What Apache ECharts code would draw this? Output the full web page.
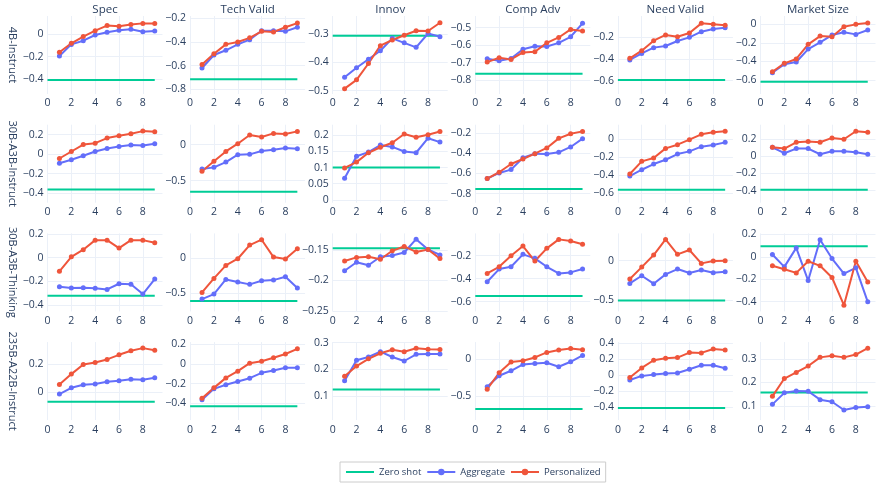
<!DOCTYPE html>
<html>
<head>
<meta charset="utf-8">
<script src="https://cdn.jsdelivr.net/npm/echarts@6/dist/echarts.min.js"></script>
<style>
    html, body { margin: 0; padding: 0; background: #fff; }
    #chart { width: 881px; height: 491px; }
</style>
</head>
<body>
<div id="chart"></div>
<script>
var metrics = ['Spec', 'Tech Valid', 'Innov', 'Comp Adv', 'Need Valid', 'Market Size'];
var models = ['4B-Instruct', '30B-A3B-Instruct', '30B-A3B-Thinking', '235B-A22B-Instruct'];
var steps = [1, 2, 3, 4, 5, 6, 7, 8, 9];
var zeroShotX = [0, 9];

// one row of 9 values per metric, same order as metrics
var agg_4B = [
    [-0.194, -0.09, -0.057, -0.006, 0.018, 0.036, 0.045, 0.024, 0.03],
    [-0.62, -0.51, -0.47, -0.42, -0.38, -0.305, -0.305, -0.31, -0.275],
    [-0.453, -0.419, -0.389, -0.359, -0.315, -0.331, -0.347, -0.298, -0.309],
    [-0.678, -0.69, -0.677, -0.624, -0.606, -0.608, -0.587, -0.552, -0.475],
    [-0.409, -0.348, -0.295, -0.28, -0.234, -0.2, -0.148, -0.123, -0.111],
    [-0.52, -0.43, -0.405, -0.266, -0.194, -0.115, -0.086, -0.108, -0.061]
];
var pers_4B = [
    [-0.16, -0.08, -0.02, 0.033, 0.078, 0.072, 0.087, 0.098, 0.098],
    [-0.59, -0.5, -0.42, -0.4, -0.365, -0.31, -0.315, -0.275, -0.24],
    [-0.493, -0.462, -0.404, -0.341, -0.321, -0.304, -0.288, -0.289, -0.26],
    [-0.697, -0.672, -0.682, -0.642, -0.638, -0.587, -0.556, -0.51, -0.519],
    [-0.394, -0.323, -0.231, -0.178, -0.194, -0.16, -0.071, -0.08, -0.089],
    [-0.51, -0.42, -0.373, -0.215, -0.126, -0.133, -0.025, 0.0, 0.014]
];
var zero_4B = [-0.409, -0.715, -0.306, -0.764, -0.594, -0.618];

var agg_30B = [
    [-0.093, -0.058, -0.017, 0.027, 0.058, 0.079, 0.093, 0.089, 0.106],
    [-0.338, -0.315, -0.241, -0.139, -0.134, -0.088, -0.069, -0.046, -0.056],
    [0.067, 0.135, 0.148, 0.17, 0.164, 0.15, 0.146, 0.191, 0.179],
    [-0.651, -0.595, -0.562, -0.444, -0.404, -0.407, -0.391, -0.338, -0.256],
    [-0.411, -0.341, -0.278, -0.23, -0.167, -0.137, -0.085, -0.067, -0.037],
    [0.104, 0.035, 0.089, 0.089, 0.023, 0.058, 0.058, 0.046, 0.023]
];
var pers_30B = [
    [-0.045, 0.027, 0.099, 0.113, 0.165, 0.189, 0.209, 0.237, 0.23],
    [-0.37, -0.231, -0.093, 0.014, 0.134, 0.106, 0.157, 0.148, 0.185],
    [0.099, 0.117, 0.146, 0.163, 0.177, 0.204, 0.194, 0.202, 0.212],
    [-0.651, -0.588, -0.506, -0.457, -0.404, -0.348, -0.253, -0.207, -0.184],
    [-0.389, -0.248, -0.211, -0.104, -0.063, -0.007, 0.052, 0.074, 0.085],
    [0.104, 0.089, 0.162, 0.17, 0.162, 0.213, 0.197, 0.29, 0.279]
];
var zero_30B = [-0.364, -0.653, 0.1, -0.754, -0.563, -0.39];

var agg_30BT = [
    [-0.245, -0.256, -0.254, -0.259, -0.268, -0.22, -0.225, -0.307, -0.18],
    [-0.581, -0.51, -0.3, -0.338, -0.371, -0.319, -0.31, -0.262, -0.424],
    [-0.184, -0.17, -0.175, -0.161, -0.159, -0.154, -0.132, -0.149, -0.158],
    [-0.426, -0.316, -0.296, -0.188, -0.223, -0.296, -0.354, -0.345, -0.316],
    [-0.288, -0.191, -0.292, -0.174, -0.106, -0.157, -0.119, -0.153, -0.14],
    [0.021, -0.089, 0.08, -0.211, 0.152, -0.015, -0.149, -0.098, -0.401]
];
var pers_30BT = [
    [-0.115, 0.008, 0.068, 0.149, 0.149, 0.082, 0.149, 0.149, 0.127],
    [-0.486, -0.286, -0.1, -0.005, 0.19, 0.267, 0.019, -0.01, 0.138],
    [-0.168, -0.162, -0.161, -0.165, -0.151, -0.144, -0.153, -0.149, -0.164],
    [-0.354, -0.296, -0.2, -0.116, -0.246, -0.136, -0.058, -0.072, -0.101],
    [-0.233, -0.081, 0.072, 0.271, 0.081, 0.136, -0.034, -0.004, 0.0],
    [-0.08, -0.11, -0.143, -0.039, -0.08, -0.184, -0.431, -0.039, -0.223]
];
var zero_30BT = [-0.321, -0.61, -0.147, -0.551, -0.504, 0.095];

var agg_235B = [
    [-0.012, 0.033, 0.055, 0.06, 0.076, 0.083, 0.095, 0.09, 0.105],
    [-0.364, -0.253, -0.212, -0.179, -0.145, -0.091, -0.067, -0.04, -0.04],
    [0.157, 0.234, 0.246, 0.266, 0.246, 0.231, 0.256, 0.257, 0.257],
    [-0.373, -0.223, -0.155, -0.068, -0.055, -0.045, -0.1, -0.032, 0.055],
    [-0.059, -0.008, 0.008, 0.021, 0.029, 0.075, 0.126, 0.126, 0.088],
    [0.106, 0.155, 0.163, 0.162, 0.126, 0.117, 0.082, 0.093, 0.096]
];
var pers_235B = [
    [0.057, 0.131, 0.2, 0.214, 0.236, 0.269, 0.298, 0.317, 0.302],
    [-0.347, -0.243, -0.142, -0.074, 0.007, 0.027, 0.061, 0.1, 0.152],
    [0.174, 0.212, 0.239, 0.26, 0.273, 0.266, 0.279, 0.275, 0.274],
    [-0.405, -0.182, -0.036, -0.018, 0.027, 0.095, 0.127, 0.15, 0.132],
    [-0.029, 0.092, 0.189, 0.214, 0.222, 0.285, 0.281, 0.331, 0.319],
    [0.14, 0.216, 0.242, 0.269, 0.306, 0.313, 0.306, 0.318, 0.345]
];
var zero_235B = [-0.067, -0.43, 0.124, -0.677, -0.413, 0.157];

// y axis ranges and tick steps, per model row
var yMin = [
    [-0.534, -0.84, -0.512, -0.88, -0.723, -0.75],
    [-0.5, -0.806, -0.009, -0.889, -0.707, -0.539],
    [-0.454, -0.757, -0.251, -0.684, -0.644, -0.486],
    [-0.198, -0.569, 0.009, -0.827, -0.564, 0.039]
];
var yMax = [
    [0.164, -0.18, -0.236, -0.433, -0.003, 0.09],
    [0.303, 0.278, 0.233, -0.118, 0.159, 0.366],
    [0.206, 0.357, -0.1225, -0.006, 0.347, 0.209],
    [0.36, 0.22, 0.302, 0.236, 0.417, 0.371]
];
var yStep = [
    [0.2, 0.2, 0.1, 0.1, 0.2, 0.2],
    [0.2, 0.5, 0.05, 0.2, 0.2, 0.2],
    [0.2, 0.5, 0.05, 0.2, 0.5, 0.2],
    [0.2, 0.2, 0.1, 0.5, 0.2, 0.1]
];

var aggRows = [agg_4B, agg_30B, agg_30BT, agg_235B];
var persRows = [pers_4B, pers_30B, pers_30BT, pers_235B];
var zeroRows = [zero_4B, zero_30B, zero_30BT, zero_235B];

var colLeft = 47.5, colStep = 142.6, plotW = 115;
var rowTop = 16, rowStep = 108.7, plotH = 78;
var fam = '"Open Sans", sans-serif';
var ink = '#2a3f5f';
var gridColor = '#EBF0F8';

function tickFmt(step) {
    return function (v) {
        var q = v / step;
        if (Math.abs(q - Math.round(q)) > 1e-6) return '';
        var s = parseFloat(v.toFixed(4)).toString();
        return s.replace('-', '\u2212');
    };
}

var grids = [], xAxes = [], yAxes = [], series = [], graphics = [];

for (var r = 0; r < models.length; r++) {
    for (var c = 0; c < metrics.length; c++) {
        var i = grids.length;
        grids.push({left: colLeft + c * colStep, top: rowTop + r * rowStep, width: plotW, height: plotH, containLabel: false});
        xAxes.push({
            type: 'value', gridIndex: i, min: 0, max: 9.65, interval: 2,
            axisLine: {show: false}, axisTick: {show: false},
            axisLabel: {fontSize: 10.5, color: ink, fontFamily: fam, margin: 4, formatter: tickFmt(2)},
            splitLine: {show: true, showMaxLine: false, lineStyle: {color: gridColor, width: 1}}
        });
        var st = yStep[r][c];
        yAxes.push({
            type: 'value', gridIndex: i, min: yMin[r][c], max: yMax[r][c],
            minInterval: st, maxInterval: st, scale: true,
            axisLine: {show: false}, axisTick: {show: false},
            axisLabel: {fontSize: 10.5, color: ink, fontFamily: fam, margin: 4, formatter: tickFmt(st)},
            splitLine: {show: true, showMinLine: false, showMaxLine: false, lineStyle: {color: gridColor, width: 1}}
        });
        var z = zeroRows[r][c];
        series.push({
            name: 'Zero shot', type: 'line', xAxisIndex: i, yAxisIndex: i,
            data: zeroShotX.map(function (x) { return [x, z]; }),
            symbol: 'none', color: '#00cc96', lineStyle: {width: 2, color: '#00cc96'}
        });
        var a = aggRows[r][c], p = persRows[r][c];
        series.push({
            name: 'Aggregate', type: 'line', xAxisIndex: i, yAxisIndex: i,
            data: steps.map(function (s, k) { return [s, a[k]]; }),
            symbol: 'circle', symbolSize: 5, color: '#636efa',
            lineStyle: {width: 2, color: '#636efa'}, itemStyle: {color: '#636efa'}
        });
        series.push({
            name: 'Personalized', type: 'line', xAxisIndex: i, yAxisIndex: i,
            data: steps.map(function (s, k) { return [s, p[k]]; }),
            symbol: 'circle', symbolSize: 5, color: '#EF553B',
            lineStyle: {width: 2, color: '#EF553B'}, itemStyle: {color: '#EF553B'}
        });
    }
    graphics.push({
        type: 'text', x: 12, y: rowTop + r * rowStep + plotH / 2, rotation: -Math.PI / 2,
        style: {text: models[r], fill: ink, font: '11px ' + fam, textAlign: 'center', textVerticalAlign: 'middle', align: 'center', verticalAlign: 'middle'}
    });
}

for (var c = 0; c < metrics.length; c++) {
    graphics.push({
        type: 'text', x: colLeft + c * colStep + plotW / 2, y: 10,
        style: {text: metrics[c], fill: ink, font: '11.5px ' + fam, textAlign: 'center', textVerticalAlign: 'middle', align: 'center', verticalAlign: 'middle'}
    });
}

var chart = echarts.init(document.getElementById('chart'));
chart.setOption({
    animation: false,
    backgroundColor: '#fff',
    textStyle: {fontFamily: fam},
    grid: grids,
    xAxis: xAxes,
    yAxis: yAxes,
    series: series,
    graphic: graphics,
    legend: {
        data: [
            {name: 'Zero shot', itemStyle: {opacity: 0}},
            'Aggregate',
            'Personalized'
        ],
        left: 340, top: 462,
        borderColor: '#cccccc', borderWidth: 1, padding: [5, 5],
        itemWidth: 28, itemHeight: 8, itemGap: 5,
        textStyle: {fontSize: 9.5, color: ink, fontFamily: fam}
    }
});
</script>
</body>
</html>
